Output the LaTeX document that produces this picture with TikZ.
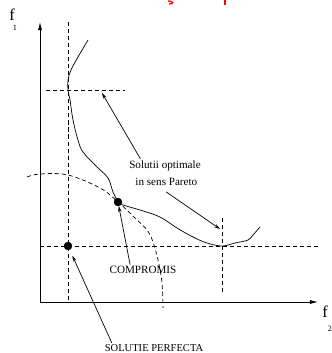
\documentclass[tikz,border=0pt]{standalone}
\usepackage{fontspec}
\setmainfont{Liberation Serif}
\usepackage{tikz}
\usetikzlibrary{arrows.meta,positioning}

\begin{document}
\begin{tikzpicture}[x=0.03cm,y=-0.03cm,line width=0.6pt,
		dashline/.style={dash pattern=on 3.5pt off 2.5pt},
		arr/.style={-{Stealth[length=5pt,width=3pt]}},
		dot/.style={draw,circle,fill=black,inner sep=0pt,minimum size=6.5pt},
		lbl/.style={font=\fontsize{9.5}{15}\selectfont,inner sep=1pt,align=center}]
		\useasboundingbox (0,0) rectangle (332,353);

		% cut-off red title
		\draw[red,line width=1.1pt] (168,1) .. controls (174,1) and (174,4) .. (169,4);
		\draw[red,line width=1.3pt] (225,0) -- (225,5);

		% axes
		\coordinate (orig) at (40,302);
		\coordinate (ytip) at (40,22);
		\coordinate (xtip) at (318,302);
		\draw[-{Latex[length=7pt,width=3.5pt]}] (orig) -- (ytip);
		\draw[-{Latex[length=7pt,width=3.5pt]}] (orig) -- (xtip);
		\node[font=\fontsize{14}{14}\selectfont] (f1) at (12,15) {f};
		\node[font=\fontsize{7}{7}\selectfont] (f1sub) at (15,28) {1};
		\node[font=\fontsize{14}{14}\selectfont] (f2) at (325,312) {f};
		\node[font=\fontsize{7}{7}\selectfont] (f2sub) at (330,329) {2};

		% ideal values
		\coordinate (vtop) at (68,22);
		\coordinate (vbot) at (68,302);
		\coordinate (hleft) at (40,246);
		\coordinate (hright) at (318,246);
		\draw[dashline] (vtop) -- (vbot);
		\draw[dashline] (hleft) -- (hright);

		% extremes of the front
		\coordinate (tleft) at (46,90);
		\coordinate (tright) at (125,90);
		\coordinate (rtop) at (222,218);
		\coordinate (rbot) at (222,293);
		\draw[dashline] (tleft) -- (tright);
		\draw[dashline] (rtop) -- (rbot);

		% points
		\node[dot] (perfect) at (68,246) {};
		\node[dot] (compromise) at (118,202) {};

		% Pareto front
		\draw plot[smooth,tension=0.6] coordinates {(88,40) (78,57) (71,70) (68,80) (68,90) (70,100) (73,120) (78,140) (83,152) (97,167) (108,178) (113,192) (118,202)};
		\draw plot[smooth,tension=0.6] coordinates {(118,202) (123,205) (140,210) (160,217) (177,228) (193,237) (207,243) (222,246) (235,243) (248,240) (253,235) (260,227)};

		% distance arc
		\draw[dashline] plot[smooth,tension=0.6] coordinates {(27,177) (40,174) (68,175) (100,188) (118,202) (135,218) (147,230) (153,242) (158,260) (162,283) (163,308)};

		% labels
		\node[lbl] (pareto) at (165,173) {Solutii optimale\\ \ in sens Pareto};
		\node[lbl] (comp) at (143,270) {COMPROMIS};
		\node[lbl,font=\fontsize{9}{9}\selectfont] (perf) at (154,348) {SOLUTIE PERFECTA};

		\coordinate (paretoA) at (102,93);
		\coordinate (paretoB) at (220,229);
		\draw[arr] ([xshift=-21pt]pareto.north) -- (paretoA);
		\draw[arr] ([xshift=1pt,yshift=-4pt]pareto.south) -- (paretoB);
		\draw[arr] ([xshift=-11pt]comp.north) -- (compromise);
		\draw[arr,shorten >=5.5pt] ([xshift=-36pt]perf.north) -- (perfect);
	\end{tikzpicture}
\end{document}
